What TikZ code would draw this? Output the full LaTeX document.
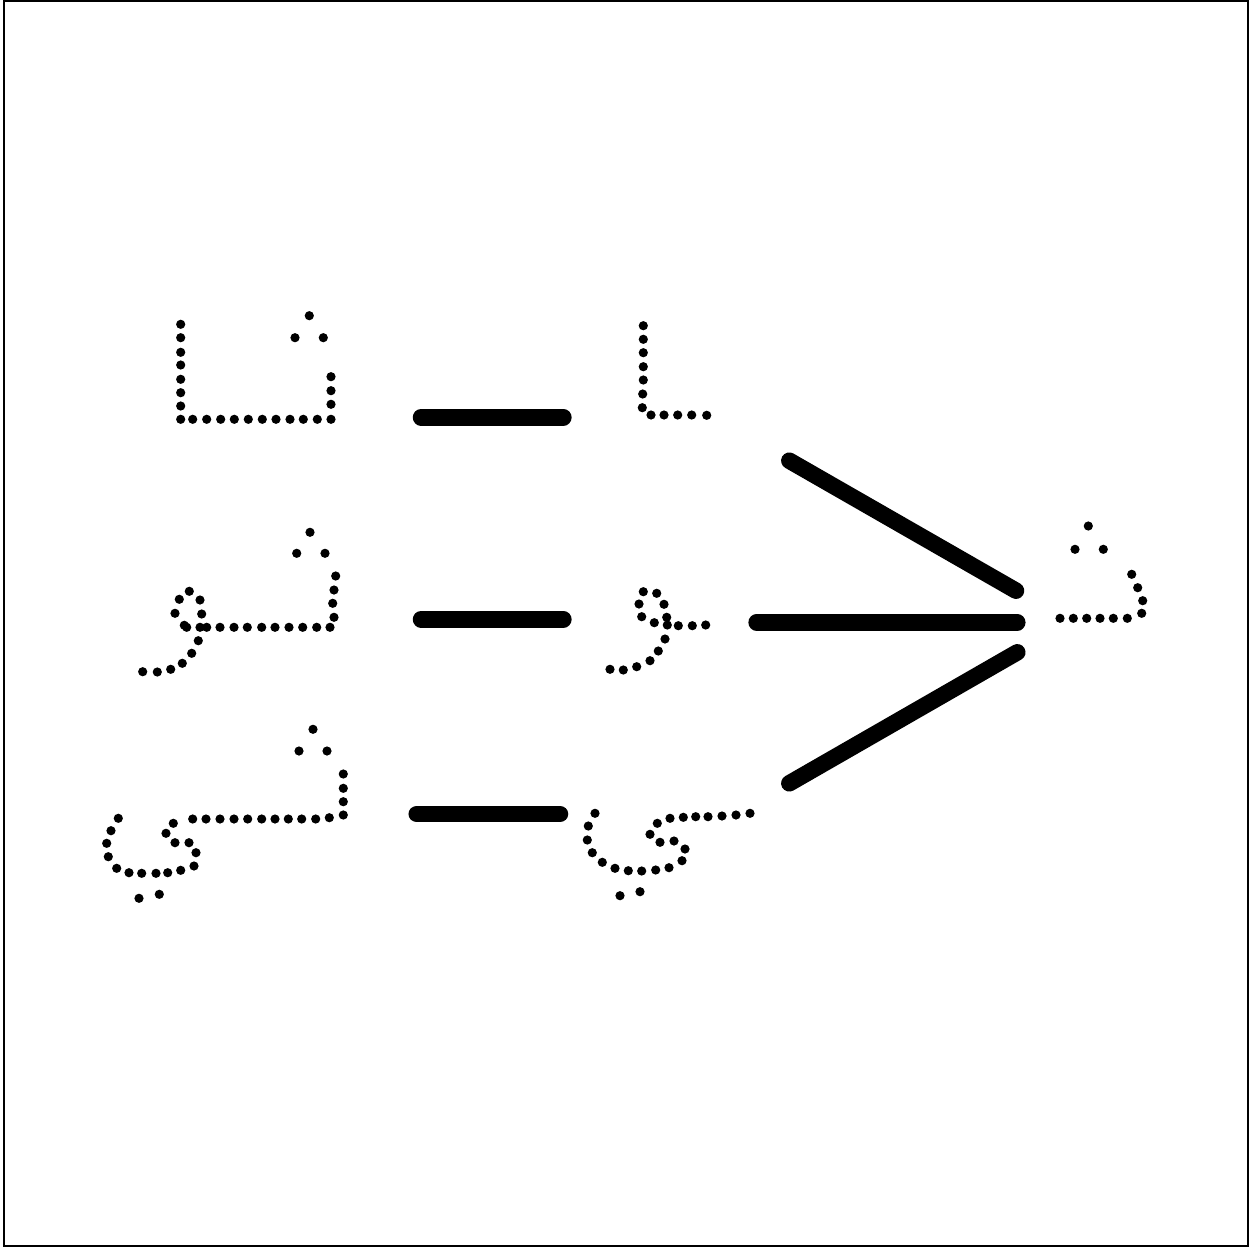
\documentclass[tikz,border=0pt]{standalone}
\tikzset{
  dotfill/.style={fill=black},
  stroke/.style={line width=16.5pt,line cap=round,draw=black},
  frame/.style={line width=2pt,draw=black}
}
\newcommand{\dotrad}{4.6}
\begin{document}
\begin{tikzpicture}[x=1pt,y=-1pt]
\useasboundingbox (0,0) rectangle (1249,1247);
\fill[white] (0,0) rectangle (1249,1247);
% frame
\draw[frame] (3.7,1) -- (1247.5,1) -- (1247.5,1245.8) -- (3.7,1245.8) -- cycle;

% Letter: tha initial (row 1, left)
\foreach \x/\y in {180.7/324.3,180.7/337.7,180.7/352.3,180.7/365,180.7/379.3,180.7/392.7,180.7/406,180.7/419.3,
  192.7/419.3,206.7/419.3,220.7/419.3,234.3/419.3,248.3/419.3,262.3/419.3,276/419.3,290/419.3,303.3/419.3,317.3/419.3,331/419.3,
  331/404.3,331/390.7,331/376.7,
  309.3/315.7,295/337.7,323.3/337.7}
  \fill[dotfill] (\x,\y) circle (\dotrad);

% Letter: alif final (row 1, right)
\foreach \x/\y in {643.3/325.7,643.3/339.3,643.3/352.7,643.3/366.7,643.3/380,642.7/394,642.3/407.7,
  651/415,664/415,677.7/415,691.7/415,706.7/415.3}
  \fill[dotfill] (\x,\y) circle (\dotrad);

% Letter: tha initial + waw (row 2, left)
\foreach \x/\y in {310/532.3,296.7/553.3,325/553.3,
  335.7/576,334/590,332.7/603.3,334/617.3,
  330/627.3,316.7/627.3,302.7/627.3,289/627.3,275/627.3,261.7/627.3,247.3/627.3,234/627.3,220/627.3,206.7/627.3,200/627.3,
  186.7/627.3,184.3/625.3,175/613.3,179.3/599.3,189.3/591.3,200/600,201.7/614,
  198.3/640.7,191.7/653.3,182.3/663.3,170.7/669.3,157.3/672,142.7/671.7}
  \fill[dotfill] (\x,\y) circle (\dotrad);

% Letter: waw final (row 2, right)
\foreach \x/\y in {643.3/591.7,656.7/593.3,639/604,664/604.3,641.7/616.7,654.3/622.7,666.7/617.3,667.3/625,
  678.3/625.7,692.3/625.7,705.7/625,
  665/639,658.3/651,650/660.7,636.7/666.7,623.3/670,610/669.3}
  \fill[dotfill] (\x,\y) circle (\dotrad);

% Letter: tha initial + ya (row 3, left)
\foreach \x/\y in {313/729.3,299/751,327/751,
  343.3/774,343.3/788.3,343.3/801.7,343.3/815,
  329.3/817.7,315.7/819,301.7/819,288.3/819,275/819,261.7/819,247.7/819,234/819,220/819,206/819,192.7/819,
  173.3/823.3,166/833.3,175/842.7,189/842.7,196/852.7,194/866,180.7/870.3,167.7/872.7,156/873.3,141.7/873.3,
  129/872.7,116.7/868.3,108.3/856.7,106.7/843.3,111/830.7,118.3/818.3,
  139/898.3,159.3/894.3}
  \fill[dotfill] (\x,\y) circle (\dotrad);

% Letter: ya final (row 3, right)
\foreach \x/\y in {750/813.3,736/815,722/816,708/816.7,695.7/816.7,683.3/817.3,670/818.3,
  657.3/823.3,650/834.3,660/842.3,674/841,685/849,682/860.7,669/867.7,655.7/870,641.7/871,628.3/870.7,
  615/868.3,602.3/862.3,592.3/852.7,587.3/840,588.3/826,595/813.3,
  620/895.7,640/891.7}
  \fill[dotfill] (\x,\y) circle (\dotrad);

% Letter: tha (right side)
\foreach \x/\y in {1088.3/526,1075/549.3,1103.3/549.3,
  1131.7/574.3,1137.7/587.7,1142.7/600.7,1141.7/613.3,
  1127.3/618.3,1113.3/618.3,1100/618.3,1086.7/618.3,1073.3/618.3,1060/618.3}
  \fill[dotfill] (\x,\y) circle (\dotrad);

% connector strokes
\coordinate (a1) at (421,417.3);  \coordinate (a2) at (563.4,417.3);
\coordinate (b1) at (421,619.3);  \coordinate (b2) at (563.4,619.3);
\coordinate (c1) at (416.7,814);  \coordinate (c2) at (560,814);
\coordinate (u1) at (789.3,460.7); \coordinate (u2) at (1016,590.7);
\coordinate (m1) at (756.6,622.3); \coordinate (m2) at (1017.3,622.3);
\coordinate (l1) at (1017.3,652.3); \coordinate (l2) at (789.3,783.3);
\draw[stroke] (a1) -- (a2);
\draw[stroke] (b1) -- (b2);
\draw[stroke] (c1) -- (c2);
\draw[stroke] (u1) -- (u2);
\draw[stroke] (m1) -- (m2);
\draw[stroke] (l1) -- (l2);
\end{tikzpicture}
\end{document}
